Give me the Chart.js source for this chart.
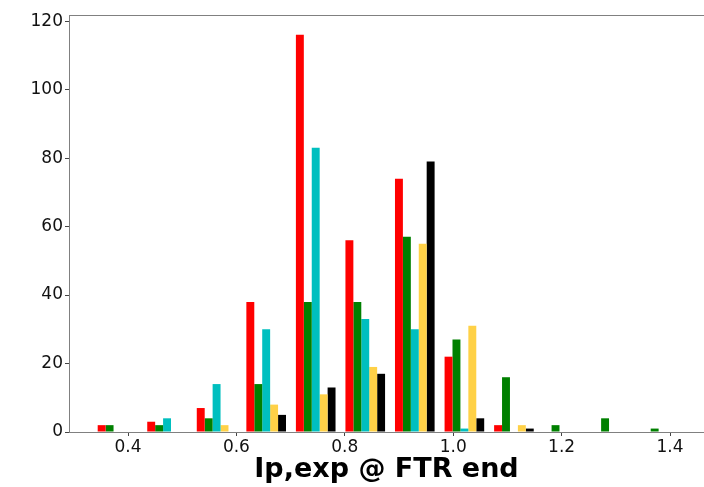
<!DOCTYPE html>
<html>
<head>
<meta charset="utf-8">
<title>Ip,exp @ FTR end</title>
<script src="https://cdn.jsdelivr.net/npm/chart.js@4.4.1/dist/chart.umd.min.js"></script>
<style>
  html, body { margin: 0; padding: 0; background: #ffffff; overflow: hidden; }
  #wrap { width: 704px; height: 487px; }
</style>
</head>
<body>
<div id="wrap"><canvas id="hist" width="704" height="487"></canvas></div>
<script>
// Histogram bin centres (shared by every series)
const binCenters = [0.3806, 0.4720, 0.5634, 0.6549, 0.7463, 0.8377,
                    0.9291, 1.0206, 1.1120, 1.2034, 1.2948, 1.3863];

// Counts per bin for each series
const countsRed   = [2, 3, 7, 38, 116, 56, 74, 22, 2, 0, 0, 0];
const countsGreen = [2, 2, 4, 14, 38, 38, 57, 27, 16, 2, 4, 1];
const countsCyan  = [0, 4, 14, 30, 83, 33, 30, 1, 0, 0, 0, 0];
const countsGold  = [0, 0, 2, 8, 11, 19, 55, 31, 2, 0, 0, 0];
const countsBlack = [0, 0, 0, 5, 13, 17, 79, 4, 1, 0, 0, 0];

// Axis ticks
const xTicks = [0.4, 0.6, 0.8, 1.0, 1.2, 1.4];
const yTicks = [0, 20, 40, 60, 80, 100, 120];

const series = [
  { name: 'red',   counts: countsRed,   color: '#ff0000' },
  { name: 'green', counts: countsGreen, color: '#008000' },
  { name: 'cyan',  counts: countsCyan,  color: '#00bfbf' },
  { name: 'gold',  counts: countsGold,  color: '#ffd147' },
  { name: 'black', counts: countsBlack, color: '#000000' }
];

const FONT = "'DejaVu Sans', 'Liberation Sans', sans-serif";
const X_MIN = 0.2911, X_MAX = 1.4627;

const datasets = series.map(s => ({
  label: s.name,
  data: binCenters.map((x, i) => ({ x: x, y: s.counts[i] })),
  backgroundColor: s.color,
  borderWidth: 0,
  categoryPercentage: 0.8,
  barPercentage: 1.0
}));

new Chart(document.getElementById('hist'), {
  type: 'bar',
  data: { datasets },
  options: {
    responsive: false,
    animation: false,
    layout: { padding: { top: 15, left: 0, right: 0, bottom: 0 } },
    plugins: {
      legend: { display: false },
      tooltip: { enabled: false }
    },
    scales: {
      x: {
        type: 'linear',
        position: 'bottom',
        offset: false,
        min: X_MIN,
        max: X_MAX,
        afterBuildTicks: axis => { axis.ticks = xTicks.map(v => ({ value: v })); },
        afterFit: axis => { axis.height = 55; },
        ticks: {
          color: '#111',
          font: { family: FONT, size: 17 },
          padding: 1,
          maxRotation: 0,
          autoSkip: false,
          callback: v => Number(v).toFixed(1)
        },
        grid: {
          offset: false,
          drawOnChartArea: false,
          drawTicks: true,
          tickLength: 4,
          tickColor: '#444'
        },
        border: { display: true, color: '#808080', width: 1 },
        title: {
          display: true,
          text: 'Ip,exp @ FTR end',
          color: '#000',
          font: { family: FONT, size: 27, weight: 'bold' },
          padding: { top: 0, bottom: 1 }
        }
      },
      xTop: {
        type: 'linear',
        position: 'top',
        offset: false,
        min: X_MIN,
        max: X_MAX,
        afterFit: axis => { axis.height = 0; },
        ticks: { display: false },
        grid: { display: false, drawTicks: false },
        border: { display: true, color: '#808080', width: 1 }
      },
      y: {
        type: 'linear',
        min: 0,
        max: 121.8,
        afterBuildTicks: axis => { axis.ticks = yTicks.map(v => ({ value: v })); },
        afterFit: axis => { axis.width = 69; },
        ticks: {
          color: '#111',
          font: { family: FONT, size: 17 },
          padding: 2
        },
        grid: {
          drawOnChartArea: false,
          drawTicks: true,
          tickLength: 4,
          tickColor: '#444'
        },
        border: { display: true, color: '#808080', width: 1 }
      }
    }
  }
});
</script>
</body>
</html>
